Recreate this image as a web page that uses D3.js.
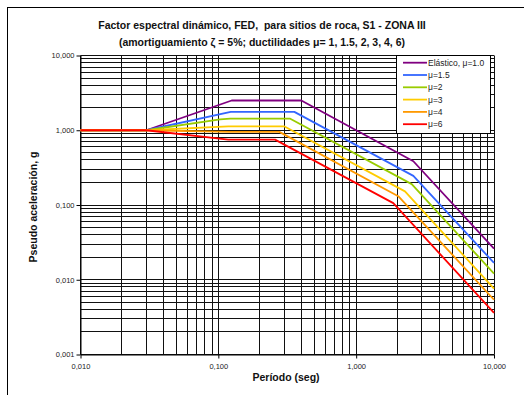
<!DOCTYPE html>
<html>
<head>
<meta charset="utf-8">
<script src="https://cdn.jsdelivr.net/npm/d3@7"></script>
<style>
  body { margin: 0; background: #fff; }
  svg { display: block; font-family: 'Liberation Sans', Arial, sans-serif; }
</style>
</head>
<body>
<svg id="chart" width="524" height="395"></svg>
<script>
// data
const seriesNames = ['Elástico, μ=1.0', 'μ=1.5', 'μ=2', 'μ=3', 'μ=4', 'μ=6'];
const seriesColors = ['#800080', '#3366ff', '#99cc00', '#ffcc00', '#ff9900', '#ff0000'];

const elasticT = [0.01, 0.03, 0.125, 0.4, 2.6, 10];
const elasticA = [1, 1, 2.5, 2.5, 0.385, 0.026];
const mu15T = [0.01, 0.03, 0.123, 0.356, 2.6, 10];
const mu15A = [1, 1, 1.76, 1.76, 0.245, 0.0168];
const mu2T = [0.01, 0.03, 0.103, 0.122, 0.33, 2.53, 10];
const mu2A = [1, 1, 1.40, 1.434, 1.434, 0.19, 0.0121];
const mu3T = [0.01, 0.03, 0.118, 0.30, 2.26, 10];
const mu3A = [1, 1, 1.13, 1.13, 0.152, 0.0076];
const mu4T = [0.01, 0.03, 0.12, 0.277, 2.02, 10];
const mu4A = [1, 1, 0.95, 0.95, 0.131, 0.0054];
const mu6T = [0.01, 0.03, 0.118, 0.258, 1.86, 10];
const mu6A = [1, 1, 0.75, 0.75, 0.106, 0.0036];

const xTicks = [0.01, 0.1, 1, 10];
const yTicks = [0.001, 0.01, 0.1, 1, 10];

const seriesT = [elasticT, mu15T, mu2T, mu3T, mu4T, mu6T];
const seriesA = [elasticA, mu15A, mu2A, mu3A, mu4A, mu6A];

const svg = d3.select('#chart');
const plot = {left: 80.5, right: 494, top: 55.5, bottom: 354.5};

const x = d3.scaleLog().domain([0.01, 10]).range([plot.left, plot.right]);
const y = d3.scaleLog().domain([0.001, 10]).range([plot.bottom, plot.top]);
const fmt = (v) => d3.format('.3f')(v).replace('.', ',');
const snap = (v) => Math.round(v - 0.5) + 0.5;

// outer frame
svg.append('rect')
    .attr('x', 7.5).attr('y', 7.5)
    .attr('width', 540).attr('height', 400)
    .attr('fill', 'none').attr('stroke', '#000');

// minor + major gridlines
const xGrid = [];
for (let d = 0.01; d < 10; d *= 10) {
  for (let k = 1; k <= 9; k++) xGrid.push(d * k);
}
xGrid.push(10);
const yGrid = [];
for (let d = 0.001; d < 10; d *= 10) {
  for (let k = 1; k <= 9; k++) yGrid.push(d * k);
}
yGrid.push(10);

const grid = svg.append('g').attr('stroke', '#111').attr('stroke-width', 1);
grid.selectAll('line.v').data(xGrid).enter().append('line')
    .attr('x1', (d) => snap(x(d))).attr('x2', (d) => snap(x(d)))
    .attr('y1', plot.top).attr('y2', plot.bottom);
grid.selectAll('line.h').data(yGrid).enter().append('line')
    .attr('y1', (d) => snap(y(d))).attr('y2', (d) => snap(y(d)))
    .attr('x1', plot.left).attr('x2', plot.right);

// axes
svg.append('g')
    .attr('transform', 'translate(0,' + snap(plot.bottom) + ')')
    .call(d3.axisBottom(x).tickValues(xTicks).tickFormat(fmt)
        .tickSizeInner(4).tickSizeOuter(0).tickPadding(5))
    .call((g) => g.select('.domain').attr('stroke', '#000'))
    .call((g) => g.selectAll('text').attr('font-size', 7.5).attr('fill', '#222')
        .attr('font-family', 'Liberation Sans Narrow, Liberation Sans, Arial'));

svg.append('g')
    .attr('transform', 'translate(' + snap(plot.left) + ',0)')
    .call(d3.axisLeft(y).tickValues(yTicks).tickFormat(fmt)
        .tickSizeInner(4).tickSizeOuter(0).tickPadding(2))
    .call((g) => g.select('.domain').attr('stroke', '#000'))
    .call((g) => g.selectAll('text').attr('font-size', 7.5).attr('fill', '#222')
        .attr('font-family', 'Liberation Sans Narrow, Liberation Sans, Arial'));

// curves
const line = d3.line().x((d) => x(d[0])).y((d) => y(d[1]));
seriesT.forEach((ts, i) => {
  const pts = ts.map((t, j) => [t, seriesA[i][j]]);
  svg.append('path')
      .attr('d', line(pts))
      .attr('fill', 'none')
      .attr('stroke', seriesColors[i])
      .attr('stroke-width', 1.8)
      .attr('stroke-linejoin', 'round');
});

// legend
const lg = svg.append('g');
lg.append('rect')
    .attr('x', 396.5).attr('y', 55.5).attr('width', 94).attr('height', 78)
    .attr('fill', '#fff').attr('stroke', '#000');
seriesNames.forEach((name, i) => {
  const yy = 62.7 + i * 12.3;
  lg.append('line')
      .attr('x1', 403).attr('x2', 427).attr('y1', yy).attr('y2', yy)
      .attr('stroke', seriesColors[i]).attr('stroke-width', 1.8);
  lg.append('text')
      .attr('x', 428).attr('y', yy + 3)
      .attr('font-size', 8.5).attr('fill', '#222')
      .text(name);
});

// titles
svg.append('text')
    .attr('x', 262).attr('y', 28.5)
    .attr('text-anchor', 'middle').attr('font-weight', 'bold').attr('font-size', 10.5)
    .attr('fill', '#111').style('white-space', 'pre')
    .text('Factor espectral dinámico, FED,  para sitios de roca, S1 - ZONA III');
svg.append('text')
    .attr('x', 262).attr('y', 46)
    .attr('text-anchor', 'middle').attr('font-weight', 'bold').attr('font-size', 10.5)
    .attr('fill', '#111')
    .text('(amortiguamiento ζ = 5%; ductilidades μ= 1, 1.5, 2, 3, 4, 6)');

svg.append('text')
    .attr('x', 286).attr('y', 381)
    .attr('text-anchor', 'middle').attr('font-weight', 'bold').attr('font-size', 10.5)
    .attr('fill', '#111')
    .text('Período (seg)');

svg.append('text')
    .attr('transform', 'translate(36.5,207) rotate(-90)')
    .attr('text-anchor', 'middle').attr('font-weight', 'bold').attr('font-size', 10.5)
    .attr('fill', '#111')
    .text('Pseudo aceleración, g');
</script>
</body>
</html>
